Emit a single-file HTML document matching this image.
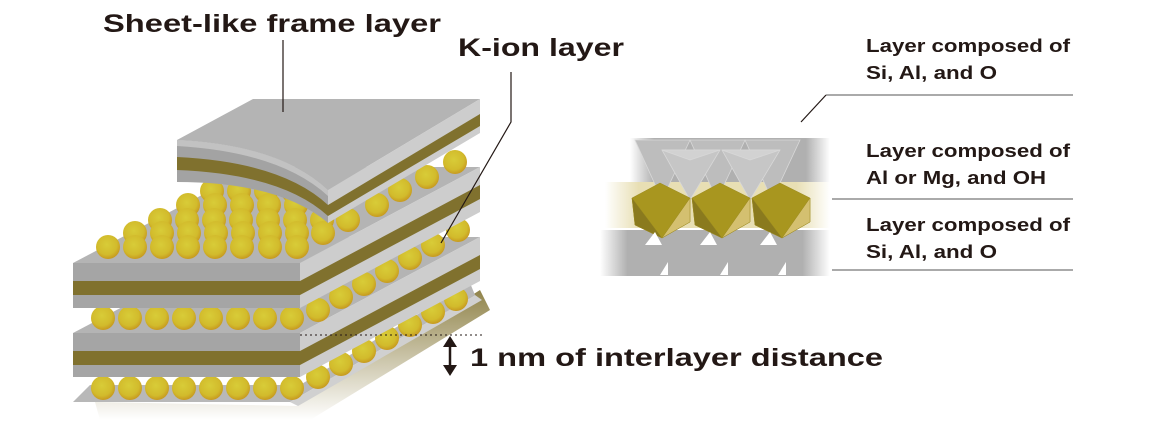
<!DOCTYPE html>
<html><head><meta charset="utf-8"><style>
html,body{margin:0;padding:0;background:#fff;width:1156px;height:428px;overflow:hidden}
svg text{font-family:"Liberation Sans","Noto Sans CJK JP",sans-serif;font-weight:bold;fill:#231815}
</style></head><body>
<svg width="1156" height="428" viewBox="0 0 1156 428" xmlns="http://www.w3.org/2000/svg">
<defs>
<radialGradient id="ball" cx="0.45" cy="0.4" r="0.6">
<stop offset="0" stop-color="#d8cc38"/><stop offset="0.7" stop-color="#d2bb2c"/><stop offset="1" stop-color="#c79a20"/>
</radialGradient>
<linearGradient id="olfade" x1="0" x2="1"><stop offset="0" stop-color="#fff"/><stop offset="0.15" stop-color="#e8dfb4"/><stop offset="0.85" stop-color="#e8dfb4"/><stop offset="1" stop-color="#fff"/></linearGradient>
<linearGradient id="gyfade" x1="0" x2="1"><stop offset="0" stop-color="#fff"/><stop offset="0.12" stop-color="#b0b0b0"/><stop offset="0.88" stop-color="#b0b0b0"/><stop offset="1" stop-color="#fff"/></linearGradient>
<linearGradient id="shadow" x1="0" y1="0" x2="0" y2="1"><stop offset="0" stop-color="#7d6e2a"/><stop offset="1" stop-color="#fff"/></linearGradient>
</defs>

<!-- bottom plate shadow & plate -->
<polygon points="95,402 298,406 480,290 490,310 310,420 100,420" fill="url(#shadow)" opacity="0.85"/>
<polygon points="73,402 290,402 475,295 470,283 300,385 90,385" fill="#b8b8b8"/>
<polygon points="290,402 475,295 482,300 298,406" fill="#d0d0d0"/>
<g fill="url(#ball)">
<circle cx="103" cy="388" r="12"/><circle cx="130" cy="388" r="12"/><circle cx="157" cy="388" r="12"/><circle cx="184" cy="388" r="12"/><circle cx="211" cy="388" r="12"/><circle cx="238" cy="388" r="12"/><circle cx="265" cy="388" r="12"/><circle cx="292" cy="388" r="12"/>
<circle cx="318" cy="377" r="12"/><circle cx="341" cy="364" r="12"/><circle cx="364" cy="351" r="12"/><circle cx="387" cy="338" r="12"/><circle cx="410" cy="325" r="12"/><circle cx="433" cy="312" r="12"/><circle cx="456" cy="299" r="12"/>
</g>

<!-- lower slab -->
<polygon points="73,333 300,333 480,237 255,237" fill="#b4b4b4"/>
<rect x="73" y="333" width="227" height="44" fill="#a5a5a5"/>
<rect x="73" y="351" width="227" height="14" fill="#80712e"/>
<polygon points="300,333 480,237 480,281 300,377" fill="#cdcdcd"/>
<polygon points="300,351 480,255 480,269 300,365" fill="#80712e"/>

<g fill="url(#ball)">
<circle cx="103" cy="318" r="12"/><circle cx="130" cy="318" r="12"/><circle cx="157" cy="318" r="12"/><circle cx="184" cy="318" r="12"/><circle cx="211" cy="318" r="12"/><circle cx="238" cy="318" r="12"/><circle cx="265" cy="318" r="12"/><circle cx="292" cy="318" r="12"/>
<circle cx="318" cy="310" r="12"/><circle cx="341" cy="297" r="12"/><circle cx="364" cy="284" r="12"/><circle cx="387" cy="271" r="12"/><circle cx="410" cy="258" r="12"/><circle cx="433" cy="245" r="12"/><circle cx="458" cy="230" r="12"/>
</g>

<!-- middle slab -->
<polygon points="73,263 300,263 480,167 255,167" fill="#b4b4b4"/>
<rect x="73" y="263" width="227" height="45" fill="#a5a5a5"/>
<rect x="73" y="281" width="227" height="14" fill="#80712e"/>
<polygon points="300,263 480,167 480,212 300,308" fill="#cdcdcd"/>
<polygon points="300,281 480,185 480,199 300,295" fill="#80712e"/>

<!-- balls on top of middle -->
<g fill="url(#ball)">
<circle cx="212" cy="191" r="12"/><circle cx="239" cy="191" r="12"/><circle cx="266" cy="191" r="12"/><circle cx="293" cy="191" r="12"/>
<circle cx="188" cy="205" r="12"/><circle cx="215" cy="205" r="12"/><circle cx="242" cy="205" r="12"/><circle cx="269" cy="205" r="12"/><circle cx="296" cy="205" r="12"/>
<circle cx="160" cy="220" r="12"/><circle cx="187" cy="220" r="12"/><circle cx="214" cy="220" r="12"/><circle cx="241" cy="220" r="12"/><circle cx="268" cy="220" r="12"/><circle cx="295" cy="220" r="12"/><circle cx="322" cy="220" r="12"/>
<circle cx="135" cy="233" r="12"/><circle cx="162" cy="233" r="12"/><circle cx="189" cy="233" r="12"/><circle cx="216" cy="233" r="12"/><circle cx="243" cy="233" r="12"/><circle cx="270" cy="233" r="12"/><circle cx="297" cy="233" r="12"/><circle cx="323" cy="233" r="12"/>
<circle cx="108" cy="247" r="12"/><circle cx="135" cy="247" r="12"/><circle cx="162" cy="247" r="12"/><circle cx="188" cy="247" r="12"/><circle cx="215" cy="247" r="12"/><circle cx="242" cy="247" r="12"/><circle cx="270" cy="247" r="12"/><circle cx="297" cy="247" r="12"/>
<circle cx="348" cy="220" r="12"/><circle cx="377" cy="205" r="12"/><circle cx="400" cy="190" r="12"/><circle cx="427" cy="177" r="12"/><circle cx="455" cy="162" r="12"/>
</g>

<!-- top curved sheet -->
<path d="M177,140 L253,99 L480,99 L328,190 Q280,145 177,140 Z" fill="#b4b4b4"/>
<path d="M177,140 Q280,145 328,190 L328,223 Q280,182 177,182 Z" fill="#a3a3a3"/>
<path d="M177,157 Q282,162 328,205 L328,216 Q282,174 177,170 Z" fill="#80712e"/>
<path d="M177,140 Q280,145 328,190 L328,196 Q280,152 177,146 Z" fill="#c2c2c2"/>
<polygon points="328,190 480,99 480,133 328,223" fill="#cdcdcd"/>
<polygon points="328,205 480,114 480,126 328,216" fill="#80712e"/>

<!-- leader lines -->
<line x1="283" y1="40" x2="283" y2="112" stroke="#231815" stroke-width="1.2"/>
<polyline points="511,72 511,122 441,243" fill="none" stroke="#231815" stroke-width="1.2"/>
<line x1="300" y1="335" x2="484" y2="335" stroke="#231815" stroke-width="1" stroke-dasharray="2,3"/>
<line x1="450" y1="342" x2="450" y2="370" stroke="#231815" stroke-width="2.5"/>
<polygon points="450,336 443,347 457,347" fill="#231815"/>
<polygon points="450,376 443,365 457,365" fill="#231815"/>

<text x="103" y="32" font-size="25" textLength="338" lengthAdjust="spacingAndGlyphs">Sheet-like frame layer</text>
<text x="458" y="56" font-size="25" textLength="166" lengthAdjust="spacingAndGlyphs">K-ion layer</text>
<text x="470" y="366" font-size="25" textLength="413" lengthAdjust="spacingAndGlyphs">1 nm of interlayer distance</text>

<!-- crystal -->
<rect x="605" y="182" width="225" height="46" fill="url(#olfade)"/>
<rect x="630" y="138" width="200" height="44" fill="url(#gyfade)"/>
<rect x="600" y="230" width="230" height="46" fill="url(#gyfade)"/>
<g stroke="#d8d8d8" stroke-width="0.8">
<polygon points="635,140 690,140 662,200" fill="#bdbdbd"/><polygon points="690,140 745,140 717,200" fill="#bdbdbd"/><polygon points="745,140 800,140 772,200" fill="#bdbdbd"/>
<polygon points="662,150 720,150 690,200" fill="#c6c6c6"/><polygon points="722,150 780,150 750,200" fill="#c6c6c6"/>
<polygon points="662,150 720,150 690,160" fill="#d2d2d2"/><polygon points="722,150 780,150 750,160" fill="#d2d2d2"/>
</g>
<g stroke="#9b8a20" stroke-width="0.5">
<polygon points="632,198 660,183 690,198 690,222 662,238 635,225" fill="#a8961f"/>
<polygon points="692,198 720,183 750,198 750,222 722,238 695,225" fill="#a8961f"/>
<polygon points="752,198 780,183 810,198 810,222 782,238 755,225" fill="#a8961f"/>
<polygon points="632,198 662,238 635,225" fill="#8a7a1e"/><polygon points="692,198 722,238 695,225" fill="#8a7a1e"/><polygon points="752,198 782,238 755,225" fill="#8a7a1e"/>
<polygon points="690,198 690,222 662,238" fill="#d4c070"/><polygon points="750,198 750,222 722,238" fill="#d4c070"/><polygon points="810,198 810,222 782,238" fill="#d4c070"/>
</g>
<g fill="#fff">
<polygon points="660,275 668,262 668,275"/><polygon points="720,275 728,262 728,275"/><polygon points="778,275 786,262 786,275"/>
<polygon points="645,245 655,232 662,245"/><polygon points="700,245 710,232 717,245"/><polygon points="760,245 770,232 777,245"/>
</g>

<line x1="826" y1="95" x2="1073" y2="95" stroke="#777" stroke-width="1.3"/>
<line x1="826" y1="95" x2="801" y2="122" stroke="#231815" stroke-width="1.2"/>
<line x1="832" y1="199" x2="1073" y2="199" stroke="#777" stroke-width="1.3"/>
<line x1="832" y1="270" x2="1073" y2="270" stroke="#777" stroke-width="1.3"/>

<g font-size="18">
<text x="866" y="52" textLength="204" lengthAdjust="spacingAndGlyphs">Layer composed of</text>
<text x="866" y="79" textLength="131" lengthAdjust="spacingAndGlyphs">Si, Al, and O</text>
<text x="866" y="157" textLength="204" lengthAdjust="spacingAndGlyphs">Layer composed of</text>
<text x="866" y="184" textLength="180" lengthAdjust="spacingAndGlyphs">Al or Mg, and OH</text>
<text x="866" y="231" textLength="204" lengthAdjust="spacingAndGlyphs">Layer composed of</text>
<text x="866" y="258" textLength="131" lengthAdjust="spacingAndGlyphs">Si, Al, and O</text>
</g>
</svg>
</body></html>
